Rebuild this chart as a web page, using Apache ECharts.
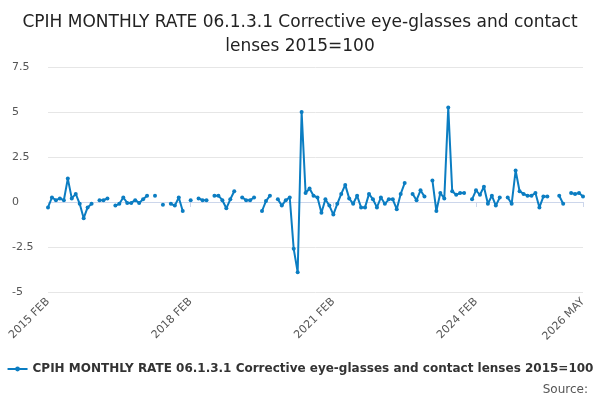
<!DOCTYPE html>
<html>
<head>
<meta charset="utf-8">
<script src="https://cdn.jsdelivr.net/npm/echarts@6/dist/echarts.min.js"></script>
<style>html,body{margin:0;padding:0;background:#fff}#chart{width:600px;height:400px}</style>
</head>
<body>
<div id="chart"></div>
<script>
// monthly categories, 2015 FEB .. 2026 MAY
var monthNames = ['JAN','FEB','MAR','APR','MAY','JUN','JUL','AUG','SEP','OCT','NOV','DEC'];
var startYear = 2015, startMonth = 1, monthCount = 136;
var categories = [];
for (var i = 0; i < monthCount; i++) {
    var m = startMonth + i;
    categories.push((startYear + Math.floor(m / 12)) + ' ' + monthNames[m % 12]);
}

var seriesName = 'CPIH MONTHLY RATE 06.1.3.1 Corrective eye-glasses and contact lenses 2015=100';
var values = [
    -0.3, 0.25, 0.1, 0.2, 0.1, 1.3, 0.2, 0.45, -0.1, -0.9, -0.3, -0.1,
    null, 0.1, 0.1, 0.2, null, -0.2, -0.1, 0.25, -0.05, -0.05, 0.1, -0.05,
    0.15, 0.35, null, 0.35, null, -0.15, null, -0.1, -0.2, 0.25, -0.5, null,
    0.1, null, 0.2, 0.1, 0.1, null, 0.35, 0.35, 0.1, -0.35, 0.15, 0.6,
    null, 0.25, 0.1, 0.1, 0.25, null, -0.5, 0.05, 0.35, null, 0.15, -0.2,
    0.1, 0.25, -2.6, -3.9, 5.0, 0.5, 0.75, 0.35, 0.25, -0.6, 0.15, -0.2,
    -0.7, -0.1, 0.45, 0.95, 0.2, -0.1, 0.35, -0.3, -0.3, 0.45, 0.15, -0.3,
    0.25, -0.1, 0.15, 0.15, -0.4, 0.45, 1.05, null, 0.45, 0.1, 0.65, 0.3,
    null, 1.2, -0.5, 0.5, 0.2, 5.25, 0.6, 0.4, 0.5, 0.5, null, 0.15,
    0.65, 0.4, 0.85, -0.1, 0.35, -0.2, 0.25, null, 0.25, -0.1, 1.75, 0.6,
    0.45, 0.35, 0.35, 0.5, -0.3, 0.3, 0.3, null, null, 0.35, -0.1, null,
    0.5, 0.45, 0.5, 0.3
];
var yTicks = [-5, 7.5, 2.5];

var showLabel = function (idx) {
    return idx % 36 === 0 || idx === monthCount - 1;
};

var chart = echarts.init(document.getElementById('chart'));
chart.setOption({
    animation: false,
    title: {
        text: 'CPIH MONTHLY RATE 06.1.3.1 Corrective eye-glasses and contact\nlenses 2015=100',
        left: 'center',
        top: 6,
        textStyle: {fontFamily: 'DejaVu Sans', fontSize: 17, fontWeight: 'normal', color: '#222', lineHeight: 24}
    },
    legend: {
        bottom: 20,
        left: 'center',
        itemWidth: 20,
        itemHeight: 6,
        textStyle: {fontFamily: 'DejaVu Sans', fontSize: 12, fontWeight: 'bold', color: '#333'},
        data: [seriesName]
    },
    graphic: [{
        type: 'text', right: 12, bottom: 4,
        style: {text: 'Source:', font: '12px DejaVu Sans', fill: '#555'}
    }],
    grid: {left: 48, right: 17, top: 67, bottom: 108},
    xAxis: {
        type: 'category',
        data: categories,
        boundaryGap: false,
        axisLine: {lineStyle: {color: '#ccd6eb'}},
        axisTick: {show: true, interval: function (i) { return showLabel(i); }, lineStyle: {color: '#ccd6eb'}},
        axisLabel: {
            interval: function (i) { return showLabel(i); },
            rotate: 45, color: '#555', fontFamily: 'DejaVu Sans', fontSize: 11
        }
    },
    yAxis: {
        type: 'value',
        min: yTicks[0], max: yTicks[1], interval: yTicks[2],
        axisLabel: {color: '#555', fontFamily: 'DejaVu Sans', fontSize: 11, align: 'left', margin: 36},
        splitLine: {lineStyle: {color: '#e6e6e6'}}
    },
    series: [{
        name: seriesName,
        type: 'line',
        data: values,
        connectNulls: false,
        showAllSymbol: true,
        symbol: 'circle',
        symbolSize: 4,
        itemStyle: {color: '#0b7dc2'},
        lineStyle: {color: '#0b7dc2', width: 2}
    }]
});
</script>
</body>
</html>
